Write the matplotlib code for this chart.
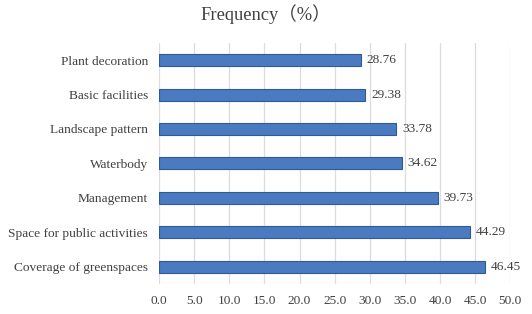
import matplotlib.pyplot as plt

categories = ["Coverage of greenspaces", "Space for public activities", "Management",
              "Waterbody", "Landscape pattern", "Basic facilities", "Plant decoration"]
values = [46.45, 44.29, 39.73, 34.62, 33.78, 29.38, 28.76]
xticks = [0, 5, 10, 15, 20, 25, 30, 35, 40, 45, 50]

plt.rcParams["font.family"] = ["Liberation Serif", "Noto Sans CJK SC"]
text_color = "#404040"
fs = 9.6

fig = plt.figure(figsize=(5.32, 3.14), dpi=100)
ax = fig.add_axes([0.299, 0.0955, 0.66, 0.768])

ypos = range(len(categories))
ax.barh(ypos, values, height=0.35, color="#4a7bc0", edgecolor="#2f5a96", linewidth=0.8, zorder=3)
for y, v in zip(ypos, values):
    ax.text(v + 0.8, y, f"{v:.2f}", va="center", ha="left", fontsize=fs, color=text_color)

ax.set_xlim(0, 50)
ax.set_ylim(-0.5, len(categories) - 0.5)
ax.set_xticks(xticks)
ax.set_xticklabels([f"{t:.1f}" for t in xticks], fontsize=fs, color=text_color)
ax.set_yticks(list(ypos))
ax.set_yticklabels(categories, fontsize=fs, color=text_color)
ax.tick_params(axis="both", length=0, pad=8)
ax.xaxis.grid(True, color="#dcdcdc", linewidth=0.9, zorder=0)
for s in ax.spines.values():
    s.set_visible(False)

fig.text(0.5, 0.955, "Frequency（%）", ha="center", va="center", fontsize=13.3, color=text_color)

fig.savefig("out.png", dpi=100)
